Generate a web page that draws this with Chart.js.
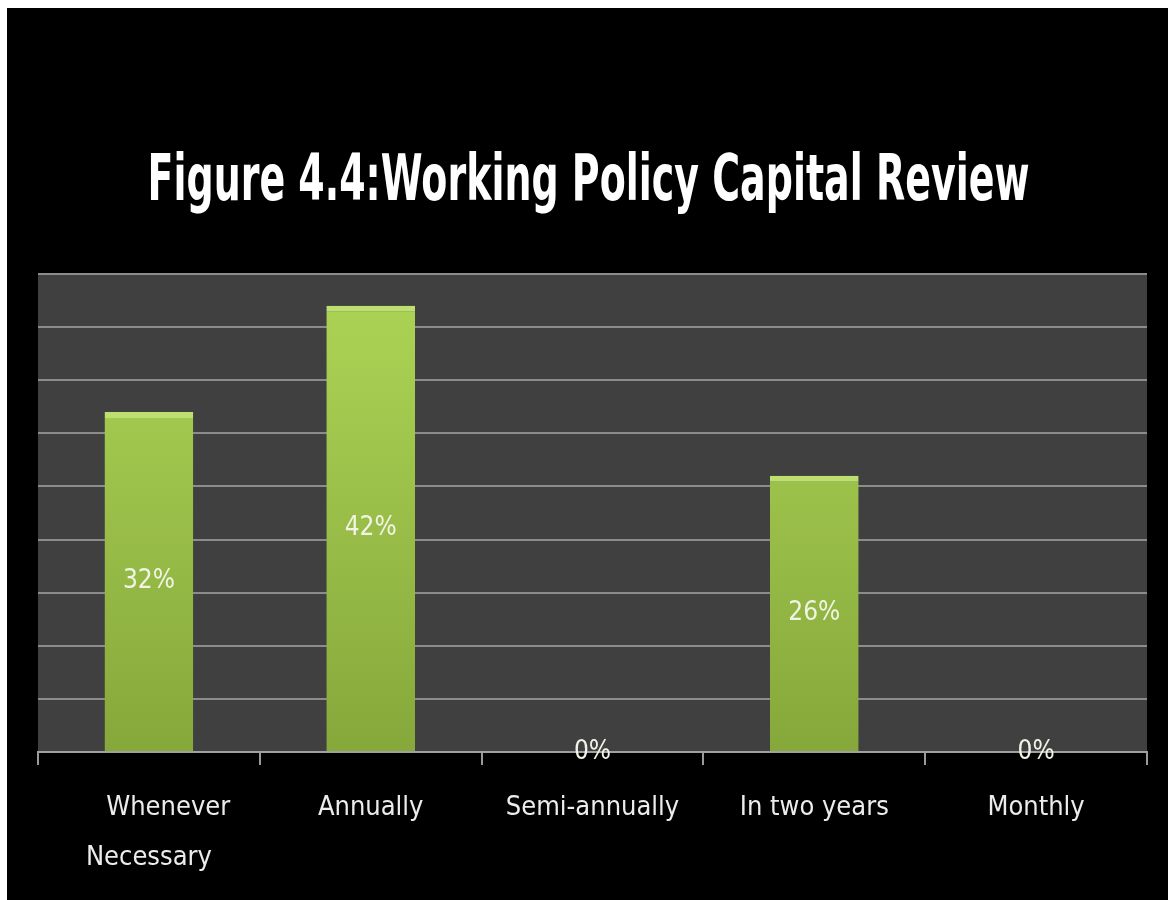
<!DOCTYPE html>
<html>
<head>
<meta charset="utf-8">
<title>Working Policy Capital Review</title>
<script src="https://cdn.jsdelivr.net/npm/chart.js@4.4.1/dist/chart.umd.min.js"></script>
<style>
  html, body { margin: 0; padding: 0; background: #fff; }
  #wrap { position: absolute; left: 7px; top: 8px; width: 1161px; height: 892px; background: #000; }
</style>
</head>
<body>
<div id="wrap"><canvas id="review"></canvas></div>
<script>
// survey answers: how often the working capital policy is reviewed
var categories = [["     Whenever", "Necessary"], "Annually", "Semi-annually", "In two years", "Monthly"];
var percentages = [32, 42, 0, 26, 0];
var yMax = 45;
var yStep = 5;
var heading = 'Figure 4.4:Working Policy Capital Review';

var narrow = "'DejaVu Sans Condensed', sans-serif";

// dark grey panel behind the bars
var plotBackground = {
  id: 'plotBackground',
  beforeDraw: function (chart) {
    var a = chart.chartArea, ctx = chart.ctx;
    ctx.save();
    ctx.fillStyle = '#404040';
    ctx.fillRect(a.left, a.top, a.right - a.left, a.bottom - a.top);
    ctx.restore();
  }
};

// tall bold heading, squeezed sideways to a condensed look
var heavyTitle = {
  id: 'heavyTitle',
  afterDraw: function (chart) {
    var ctx = chart.ctx;
    var targetWidth = 882;
    ctx.save();
    ctx.font = "bold 64px 'DejaVu Sans', sans-serif";
    var w = ctx.measureText(heading).width;
    var sx = Math.min(1, targetWidth / w);
    ctx.translate(chart.width / 2 + 1, 192);
    ctx.scale(sx, 1);
    ctx.fillStyle = '#ffffff';
    ctx.textAlign = 'center';
    ctx.textBaseline = 'alphabetic';
    ctx.fillText(heading, 0, 0);
    ctx.restore();
  }
};

// percentage written in the middle of each bar
var valueLabels = {
  id: 'valueLabels',
  afterDatasetsDraw: function (chart) {
    var ctx = chart.ctx;
    var meta = chart.getDatasetMeta(0);
    ctx.save();
    ctx.font = '26px ' + narrow;
    ctx.fillStyle = '#f1f4e4';
    ctx.textAlign = 'center';
    ctx.textBaseline = 'middle';
    meta.data.forEach(function (bar, i) {
      ctx.fillText(percentages[i] + '%', bar.x, (bar.y + bar.base) / 2);
    });
    ctx.restore();
  }
};

function barFill(context) {
  var a = context.chart.chartArea;
  if (!a) return '#9cc447';
  var g = context.chart.ctx.createLinearGradient(0, a.top, 0, a.bottom);
  g.addColorStop(0, '#aed556');
  g.addColorStop(1, '#86a83b');
  return g;
}

new Chart(document.getElementById('review'), {
  type: 'bar',
  data: {
    labels: categories,
    datasets: [{
      data: percentages,
      backgroundColor: barFill,
      borderColor: '#bcdf70',
      borderWidth: { top: 6, left: 0, right: 0, bottom: 0 },
      barPercentage: 0.4,
      categoryPercentage: 1
    }]
  },
  options: {
    responsive: true,
    maintainAspectRatio: false,
    animation: false,
    layout: { padding: { top: 266, left: 0, right: 21, bottom: 0 } },
    plugins: {
      legend: { display: false },
      tooltip: { enabled: false },
      title: { display: false }
    },
    scales: {
      x: {
        grid: { drawOnChartArea: false, tickLength: 13, color: '#9a9a9a', lineWidth: 2, offset: true },
        border: { color: '#a0a0a0', width: 2 },
        ticks: { color: '#ececec', font: { family: narrow, size: 27, lineHeight: 1.85 }, padding: 18, maxRotation: 0 },
        afterFit: function (s) { s.height = 148; }
      },
      y: {
        min: 0,
        max: yMax,
        ticks: { stepSize: yStep, display: false },
        grid: { color: '#8c8c8c', lineWidth: 2, drawTicks: false },
        border: { display: false },
        afterFit: function (s) { s.width = 31; }
      }
    }
  },
  plugins: [plotBackground, valueLabels, heavyTitle]
});
</script>
</body>
</html>
